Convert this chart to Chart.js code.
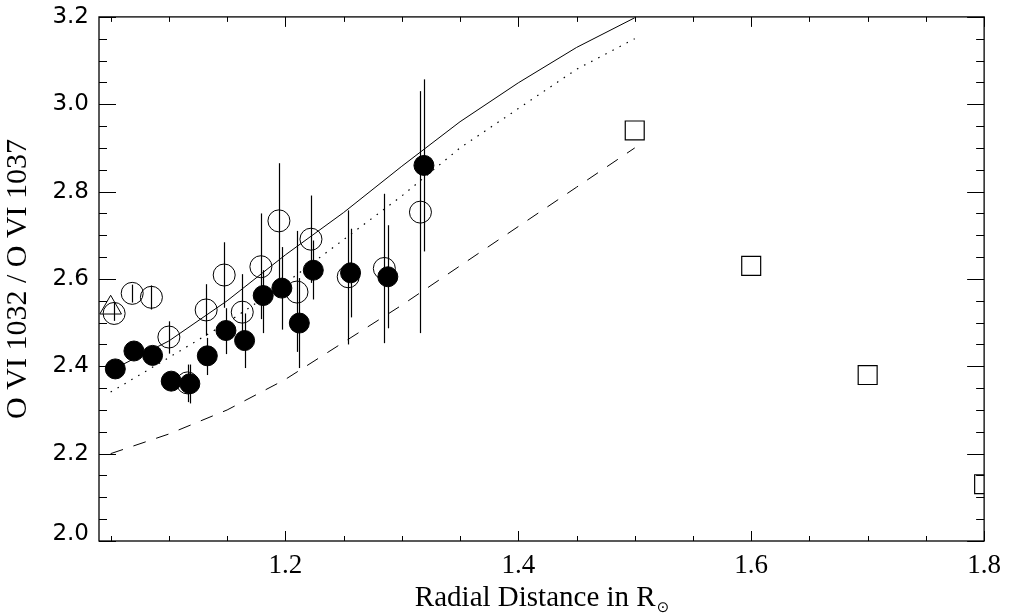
<!DOCTYPE html>
<html>
<head>
<meta charset="utf-8">
<script src="https://cdn.jsdelivr.net/npm/chart.js@4.4.1/dist/chart.umd.min.js"></script>
<style>
  html, body { margin: 0; padding: 0; background: #fff; }
  #wrap { width: 1012px; height: 616px; }
</style>
</head>
<body>
<div id="wrap"><canvas id="ratioChart"></canvas></div>
<script>
// Model curves (solid, dotted, dashed)
const modelX  = [1.05, 1.10, 1.15, 1.20, 1.25, 1.30, 1.35, 1.40, 1.45, 1.50];
const solidY  = [2.390, 2.458, 2.550, 2.655, 2.752, 2.858, 2.960, 3.049, 3.130, 3.198];
const dottedY = [2.341, 2.420, 2.500, 2.590, 2.690, 2.790, 2.900, 2.990, 3.080, 3.150];
const dashedY = [2.200, 2.245, 2.300, 2.370, 2.455, 2.540, 2.630, 2.720, 2.810, 2.900];

// Open circles with error bars
const openX  = [1.053, 1.0685, 1.085, 1.100, 1.116, 1.132, 1.1475, 1.163, 1.179, 1.1945, 1.210, 1.222, 1.254, 1.285, 1.316];
const openY  = [2.521, 2.567, 2.558, 2.467, 2.362, 2.529, 2.609, 2.524, 2.628, 2.733, 2.570, 2.691, 2.605, 2.624, 2.753];
const openLo = [2.504, 2.546, 2.530, 2.429, 2.318, 2.470, 2.534, 2.437, 2.508, 2.600, 2.433, 2.591, 2.450, 2.453, 2.476];
const openHi = [2.546, 2.587, 2.585, 2.503, 2.404, 2.588, 2.684, 2.611, 2.750, 2.865, 2.710, 2.791, 2.757, 2.795, 3.030];

// Filled circles with error bars
const filledX  = [1.054, 1.070, 1.086, 1.102, 1.118, 1.133, 1.149, 1.165, 1.181, 1.197, 1.212, 1.224, 1.256, 1.288, 1.319];
const filledY  = [2.394, 2.435, 2.425, 2.366, 2.360, 2.424, 2.482, 2.459, 2.562, 2.579, 2.499, 2.620, 2.614, 2.605, 2.860];
const filledLo = [2.375, 2.415, 2.405, 2.345, 2.315, 2.380, 2.428, 2.396, 2.476, 2.484, 2.396, 2.553, 2.512, 2.487, 2.663];
const filledHi = [2.413, 2.455, 2.445, 2.387, 2.404, 2.465, 2.533, 2.521, 2.620, 2.673, 2.602, 2.688, 2.715, 2.723, 3.057];

// Triangle and squares
const triX = [1.050];
const triY = [2.534];
const sqX = [1.5, 1.6, 1.7, 1.8];
const sqY = [2.940, 2.630, 2.380, 2.130];

// Axis ticks
const xTicks = [1.2, 1.4, 1.6, 1.8];
const xMinor = [1.05, 1.10, 1.15, 1.25, 1.30, 1.35, 1.45, 1.50, 1.55, 1.65, 1.70, 1.75];
const yTicks = [2.0, 2.2, 2.4, 2.6, 2.8, 3.0, 3.2];
const yMinor = [2.05, 2.10, 2.15, 2.25, 2.30, 2.35, 2.45, 2.50, 2.55, 2.65, 2.70, 2.75, 2.85, 2.90, 2.95, 3.05, 3.10, 3.15];

const pts = (xs, ys) => xs.map((x, i) => ({ x: x, y: ys[i] }));

// error bars, frame, inward ticks and x title
const framePlugin = {
    id: 'framePlugin',
    beforeDatasetsDraw(chart) {
        const ctx = chart.ctx, sx = chart.scales.x, sy = chart.scales.y;
        ctx.save();
        ctx.strokeStyle = '#000';
        ctx.lineWidth = 1.2;
        const bar = (xv, lo, hi) => {
            const px = Math.round(sx.getPixelForValue(xv)) + 0.5;
            ctx.beginPath();
            ctx.moveTo(px, sy.getPixelForValue(lo));
            ctx.lineTo(px, sy.getPixelForValue(hi));
            ctx.stroke();
        };
        openX.forEach((v, i) => bar(v, openLo[i], openHi[i]));
        filledX.forEach((v, i) => bar(v, filledLo[i], filledHi[i]));
        ctx.restore();
    },
    afterDraw(chart) {
        const ctx = chart.ctx, a = chart.chartArea, sx = chart.scales.x, sy = chart.scales.y;
        ctx.save();
        ctx.strokeStyle = '#000';
        ctx.lineWidth = 1.3;
        ctx.strokeRect(a.left, a.top, a.right - a.left, a.bottom - a.top);
        ctx.lineWidth = 1;
        const hTick = (v, len) => {
            const py = Math.round(sy.getPixelForValue(v)) + 0.5;
            ctx.beginPath();
            ctx.moveTo(a.left, py); ctx.lineTo(a.left + len, py);
            ctx.moveTo(a.right, py); ctx.lineTo(a.right - len, py);
            ctx.stroke();
        };
        const vTick = (v, len) => {
            const px = Math.round(sx.getPixelForValue(v)) + 0.5;
            ctx.beginPath();
            ctx.moveTo(px, a.bottom); ctx.lineTo(px, a.bottom - len);
            ctx.moveTo(px, a.top); ctx.lineTo(px, a.top + len);
            ctx.stroke();
        };
        yTicks.forEach(v => hTick(v, 17));
        yMinor.forEach(v => hTick(v, 8));
        xTicks.forEach(v => vTick(v, 10));
        xMinor.forEach(v => vTick(v, 5));

        // x axis title with subscript sun symbol
        const main = 'Radial Distance in R';
        const sub = '\u2299';
        ctx.fillStyle = '#000';
        ctx.textBaseline = 'alphabetic';
        ctx.font = '29px "Liberation Serif"';
        const w1 = ctx.measureText(main).width;
        ctx.font = '15px "DejaVu Sans"';
        const w2 = ctx.measureText(sub).width;
        const cx = (a.left + a.right) / 2;
        const x0 = cx - (w1 + w2) / 2;
        ctx.font = '29px "Liberation Serif"';
        ctx.fillText(main, x0, 606);
        ctx.font = '15px "DejaVu Sans"';
        ctx.fillText(sub, x0 + w1 + 1, 612);
        ctx.restore();
    }
};

const ctxRatio = document.getElementById('ratioChart').getContext('2d');
new Chart(ctxRatio, {
    type: 'scatter',
    data: {
        datasets: [
            {
                type: 'line', label: 'solid', data: pts(modelX, solidY),
                borderColor: '#000', borderWidth: 1, pointRadius: 0, fill: false, tension: 0
            },
            {
                type: 'line', label: 'dotted', data: pts(modelX, dottedY),
                borderColor: '#000', borderWidth: 1.2, borderDash: [1.5, 6.5], pointRadius: 0, fill: false, tension: 0
            },
            {
                type: 'line', label: 'dashed', data: pts(modelX, dashedY),
                borderColor: '#000', borderWidth: 1, borderDash: [13, 11], pointRadius: 0, fill: false, tension: 0
            },
            {
                label: 'open', data: pts(openX, openY),
                pointStyle: 'circle', pointRadius: 11, borderColor: '#000', borderWidth: 1,
                backgroundColor: 'rgba(0,0,0,0)'
            },
            {
                label: 'filled', data: pts(filledX, filledY),
                pointStyle: 'circle', pointRadius: 10, borderColor: '#000', borderWidth: 1,
                backgroundColor: '#000'
            },
            {
                label: 'triangle', data: pts(triX, triY),
                pointStyle: 'triangle', pointRadius: 12.5, borderColor: '#000', borderWidth: 1,
                backgroundColor: 'rgba(0,0,0,0)'
            },
            {
                label: 'squares', data: pts(sqX, sqY),
                pointStyle: 'rect', pointRadius: 13.4, borderColor: '#000', borderWidth: 1.2,
                backgroundColor: 'rgba(0,0,0,0)'
            }
        ]
    },
    options: {
        responsive: true,
        maintainAspectRatio: false,
        animation: false,
        layout: { padding: { top: 7, right: 24, left: 0, bottom: 0 } },
        plugins: {
            legend: { display: false },
            tooltip: { enabled: false }
        },
        scales: {
            x: {
                type: 'linear', min: 1.04, max: 1.8,
                grid: { display: false, drawTicks: false },
                border: { display: false },
                afterBuildTicks: s => { s.ticks = xTicks.map(v => ({ value: v })); },
                afterFit: s => { s.height = 75; },
                ticks: {
                    color: '#000', padding: 11,
                    font: { family: '"Liberation Serif"', size: 27, lineHeight: 1 },
                    callback: v => v.toFixed(1)
                }
            },
            y: {
                type: 'linear', min: 2.0, max: 3.2,
                grid: { display: false, drawTicks: false },
                border: { display: false },
                afterBuildTicks: s => { s.ticks = yTicks.map(v => ({ value: v })); },
                afterFit: s => { s.width = 99; },
                ticks: {
                    color: '#000', padding: 10,
                    font: { family: '"DejaVu Sans"', size: 23, lineHeight: 0.6 },
                    // bottom label sits a little above its tick, as in the original
                    callback: v => v === 2 ? ['2.0', ''] : v.toFixed(1)
                },
                title: {
                    display: true, text: 'O VI 1032 / O VI 1037', color: '#000',
                    font: { family: '"Liberation Serif"', size: 30 },
                    padding: { top: 0, bottom: 0 }
                }
            }
        }
    },
    plugins: [framePlugin]
});
</script>
</body>
</html>
